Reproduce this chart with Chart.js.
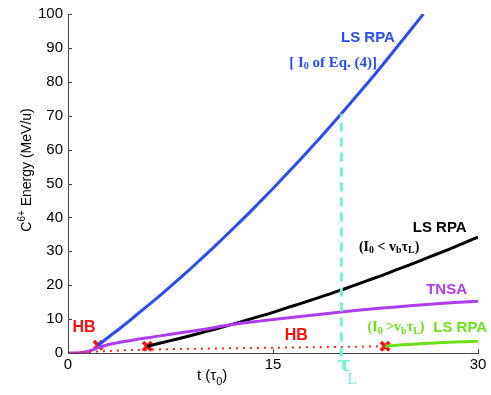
<!DOCTYPE html>
<html>
<head>
<meta charset="utf-8">
<script src="https://cdn.jsdelivr.net/npm/chart.js@4.4.0/dist/chart.umd.min.js"></script>
<style>
  body { margin: 0; background: #fff; }
  #chart { display: block; }
</style>
</head>
<body>
<canvas id="chart" width="491" height="395"></canvas>
<script>
// time axis (tau_0) and energies (MeV/u)
const tBlue = [2.2, 3, 4, 5, 6, 7, 8, 9, 10, 11, 12, 13, 14, 15, 16, 17, 18, 19, 20, 21, 22, 23, 24, 25, 26];
const eBlue = [2.3, 4.8, 7.9, 11.2, 14.5, 17.9, 21.4, 25.0, 28.7, 32.5, 36.4, 40.3, 44.4, 48.5, 52.8, 57.1, 61.5, 66.0, 70.6, 75.3, 80.0, 84.9, 89.9, 94.9, 100];

const tBlack = [5.8, 7, 8, 9, 10, 11, 12, 13, 14, 15, 16, 17, 18, 19, 20, 21, 22, 23, 24, 25, 26, 27, 28, 29, 30];
const eBlack = [2.0, 3.15, 4.15, 5.17, 6.23, 7.32, 8.45, 9.6, 10.8, 12.0, 13.3, 14.55, 15.9, 17.2, 18.6, 20.0, 21.5, 22.9, 24.5, 26.0, 27.6, 29.2, 30.8, 32.5, 34.2];

const tPurple = [0, 0.8, 1.5, 2.2, 3, 4, 5, 6, 7, 8, 9, 10, 12, 14, 16, 18, 20, 22, 24, 26, 28, 30];
const ePurple = [0, 0.05, 0.5, 1.6, 2.5, 3.3, 4.0, 4.6, 5.2, 5.8, 6.4, 7.0, 8.4, 9.4, 10.3, 11.2, 12.1, 12.9, 13.6, 14.2, 14.8, 15.3];

const tGreen = [23.2, 24.5, 26, 27.5, 29, 30];
const eGreen = [2.0, 2.4, 2.8, 3.1, 3.35, 3.5];

const tHB = [0, 2, 4, 6, 8, 10, 12, 14, 16, 18, 20, 22, 23.2];
const eHB = [0, 0.4, 0.8, 1.0, 1.2, 1.3, 1.4, 1.5, 1.6, 1.7, 1.8, 1.9, 2.0];

// HB -> LS RPA switch points
const tCross = [2.2, 5.8, 23.2];
const eCross = [2.3, 2.0, 2.0];

// laser duration tau_L
const tauL = 20;
const eTauTop = 70.6;

const yTicks = [0, 10, 20, 30, 40, 50, 60, 70, 80, 90, 100];
const xTicks = [0, 15, 30];

const pts = (xs, ys) => xs.map((x, i) => ({ x: x, y: ys[i] }));

const SANS = '"Liberation Sans", Arial, sans-serif';
const SERIF = '"Liberation Serif", "Times New Roman", serif';
const MINT = '#78f0d4';

// text runs: [text, font, dy]
const notes = [
  { x: 21.95, y: 93.1, color: '#2a4cf5', runs: [['LS RPA', 'bold 15px ' + SANS, 0]] },
  { x: 19.4, y: 85.6, color: '#2a4cf5', runs: [['[ I', 'bold 15px ' + SERIF, 0], ['0', 'bold 10px ' + SERIF, 4], [' of Eq. (4)]', 'bold 15px ' + SERIF, 0]] },
  { x: 27.2, y: 36.8, color: '#000', runs: [['LS RPA', 'bold 15px ' + SANS, 0]] },
  { x: 23.5, y: 31.3, color: '#000', runs: [['(I', 'bold 14px ' + SERIF, 0], ['0', 'bold 10px ' + SERIF, 4], [' < v', 'bold 14px ' + SERIF, 0], ['b', 'bold 10px ' + SERIF, 4], ['\u03c4', 'bold 14px ' + SERIF, 0], ['L', 'bold 10px ' + SERIF, 4], [')', 'bold 14px ' + SERIF, 0]] },
  { x: 27.7, y: 18.7, color: '#b03cf0', runs: [['TNSA', 'bold 15px ' + SANS, 0]] },
  { x: 24.0, y: 7.5, color: '#6ee01a', runs: [['(I', 'bold 14px ' + SERIF, 0], ['0', 'bold 10px ' + SERIF, 4], [' >v', 'bold 14px ' + SERIF, 0], ['b', 'bold 10px ' + SERIF, 4], ['\u03c4', 'bold 14px ' + SERIF, 0], ['L', 'bold 10px ' + SERIF, 4], [')', 'bold 14px ' + SERIF, 0]] },
  { x: 28.7, y: 7.5, color: '#6ee01a', runs: [['LS RPA', 'bold 15px ' + SANS, 0]] },
  { x: 1.17, y: 7.5, color: '#ff1010', runs: [['HB', 'bold 16px ' + SANS, 0]] },
  { x: 16.7, y: 5.2, color: '#ff1010', runs: [['HB', 'bold 16px ' + SANS, 0]] }
];

function drawRuns(ctx, cx, cy, runs, color) {
  let w = 0;
  runs.forEach(r => { ctx.font = r[1]; w += ctx.measureText(r[0]).width; });
  let x = cx - w / 2;
  ctx.fillStyle = color;
  ctx.textAlign = 'left';
  ctx.textBaseline = 'middle';
  runs.forEach(r => {
    ctx.font = r[1];
    ctx.fillText(r[0], x, cy + r[2]);
    x += ctx.measureText(r[0]).width;
  });
}

const extras = {
  id: 'extras',
  afterDraw(chart) {
    const ctx = chart.ctx;
    const xs = chart.scales.x, ys = chart.scales.y;
    ctx.save();
    // inward ticks
    ctx.strokeStyle = '#444';
    ctx.lineWidth = 1;
    yTicks.forEach(v => {
      const py = Math.round(ys.getPixelForValue(v)) + 0.5;
      ctx.beginPath(); ctx.moveTo(xs.left, py); ctx.lineTo(xs.left + 4, py); ctx.stroke();
    });
    xTicks.forEach(v => {
      const px = Math.round(xs.getPixelForValue(v)) + 0.5;
      ctx.beginPath(); ctx.moveTo(px, ys.bottom); ctx.lineTo(px, ys.bottom - 4); ctx.stroke();
    });
    // annotations
    notes.forEach(n => drawRuns(ctx, xs.getPixelForValue(n.x), ys.getPixelForValue(n.y), n.runs, n.color));
    // tau_L label
    const tx = xs.getPixelForValue(tauL);
    ctx.fillStyle = MINT;
    ctx.textBaseline = 'alphabetic';
    ctx.textAlign = 'left';
    ctx.font = 'bold 21px "DejaVu Serif", ' + SERIF;
    ctx.fillText('\u03c4', tx - 4, 371);
    ctx.font = '16px ' + SERIF;
    ctx.fillText('L', tx + 6, 384);
    // x title
    ctx.fillStyle = '#000';
    ctx.font = '15px ' + SANS;
    ctx.fillText('t (\u03c4', 197, 380);
    let w = ctx.measureText('t (\u03c4').width;
    ctx.font = '11px ' + SANS;
    ctx.fillText('0', 197 + w, 385);
    let w2 = ctx.measureText('0').width;
    ctx.font = '15px ' + SANS;
    ctx.fillText(')', 197 + w + w2, 380);
    // y title
    ctx.translate(27, 170);
    ctx.rotate(-Math.PI / 2);
    const a = 'C', b = '6+', c = ' Energy (MeV/u)';
    ctx.font = '14px ' + SANS;
    const wa = ctx.measureText(a).width, wc = ctx.measureText(c).width;
    ctx.font = '10px ' + SANS;
    const wb = ctx.measureText(b).width;
    let x0 = -(wa + wb + wc) / 2;
    ctx.textBaseline = 'middle';
    ctx.font = '14px ' + SANS; ctx.fillText(a, x0, 0);
    ctx.font = '10px ' + SANS; ctx.fillText(b, x0 + wa, -5);
    ctx.font = '14px ' + SANS; ctx.fillText(c, x0 + wa + wb, 0);
    ctx.restore();
  }
};

const lineDs = (label, data, color, extra) => Object.assign({
  label: label, data: data, borderColor: color, borderWidth: 3,
  pointRadius: 0, fill: false, showLine: true, tension: 0.3
}, extra || {});

new Chart(document.getElementById('chart'), {
  type: 'scatter',
  data: {
    datasets: [
      lineDs('tauL', [{ x: tauL, y: -1 }, { x: tauL, y: eTauTop }], MINT, { borderDash: [9, 6], clip: false, tension: 0 }),
      lineDs('HB', pts(tHB, eHB), '#ff2020', { borderWidth: 2, borderDash: [2, 5], tension: 0 }),
      lineDs('LS RPA green', pts(tGreen, eGreen), '#6ee01a'),
      lineDs('TNSA', pts(tPurple, ePurple), '#b03cf0'),
      lineDs('LS RPA black', pts(tBlack, eBlack), '#000000'),
      lineDs('LS RPA blue', pts(tBlue, eBlue), '#2a4cf5'),
      {
        label: 'switch', data: pts(tCross, eCross), showLine: false,
        pointStyle: 'crossRot', pointRadius: 6, borderWidth: 3.5,
        borderColor: '#ff1010', backgroundColor: '#ff1010'
      }
    ]
  },
  options: {
    responsive: false,
    animation: false,
    layout: { padding: { top: 5, right: 13, left: 0, bottom: 0 } },
    plugins: { legend: { display: false }, tooltip: { enabled: false } },
    scales: {
      x: {
        type: 'linear', min: 0, max: 30,
        afterBuildTicks: s => { s.ticks = xTicks.map(v => ({ value: v })); },
        afterFit: s => { s.height = 42; },
        grid: { display: false, drawTicks: false },
        border: { display: true, color: '#444', width: 1 },
        ticks: { color: '#000', font: { family: SANS, size: 15 }, padding: 3, maxRotation: 0 }
      },
      y: {
        min: 0, max: 100,
        afterBuildTicks: s => { s.ticks = yTicks.map(v => ({ value: v })); },
        afterFit: s => { s.width = 68; },
        grid: { display: false, drawTicks: false },
        border: { display: true, color: '#444', width: 1 },
        ticks: { color: '#000', font: { family: SANS, size: 15 }, padding: 5 }
      }
    }
  },
  plugins: [extras]
});
</script>
</body>
</html>
